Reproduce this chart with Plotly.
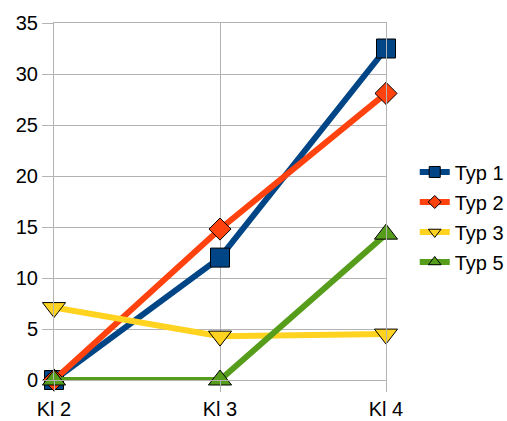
import plotly.graph_objects as go

categories = ["Kl 2", "Kl 3", "Kl 4"]
typ1 = [0, 12.0, 32.5]
typ2 = [0, 14.8, 28.1]
typ3 = [7.1, 4.3, 4.5]
typ5 = [0, 0, 14.3]

series = [
    ("Typ 1", typ1, "#004586", "square", 19, 11),
    ("Typ 2", typ2, "#ff420e", "diamond", 17, 10),
    ("Typ 3", typ3, "#ffd320", "triangle-down", 20, 11),
    ("Typ 5", typ5, "#579d1c", "triangle-up", 20, 11),
]

fig = go.Figure()
for name, vals, color, symbol, size, lsize in series:
    fig.add_trace(go.Scatter(
        x=categories, y=vals, name=name, mode="lines+markers",
        line=dict(color=color, width=6),
        marker=dict(symbol=symbol, size=size, color=color,
                    line=dict(color="#000000", width=1)),
        cliponaxis=False, showlegend=False,
    ))
    # legend entry with a smaller symbol
    fig.add_trace(go.Scatter(
        x=[None], y=[None], name=name, mode="lines+markers",
        legendgroup=name,
        line=dict(color=color, width=6),
        marker=dict(symbol=symbol, size=lsize, color=color,
                    line=dict(color="#000000", width=1)),
    ))

grid = "#b3b3b3"
axis_common = dict(showgrid=True, gridcolor=grid, gridwidth=1,
                   ticks="outside", ticklen=11, tickcolor=grid, tickwidth=1,
                   showline=True, linecolor=grid, linewidth=1, mirror=True,
                   zeroline=False, automargin=False)
fig.update_layout(
    width=507, height=421,
    margin=dict(l=54, r=121, t=23, b=41),
    paper_bgcolor="white", plot_bgcolor="white",
    font=dict(family="Liberation Sans, Arial, sans-serif", size=20, color="#000000"),
    showlegend=True,
    legend=dict(xref="container", yref="container", x=0.818, y=0.4846,
                xanchor="left", yanchor="middle", traceorder="grouped",
                font=dict(size=20), itemwidth=30, tracegroupgap=1,
                bgcolor="rgba(0,0,0,0)"),
    xaxis=dict(type="category", range=[0, 2], **axis_common),
    yaxis=dict(range=[0, 35], dtick=5, **axis_common),
)

fig.write_html("out.html")
